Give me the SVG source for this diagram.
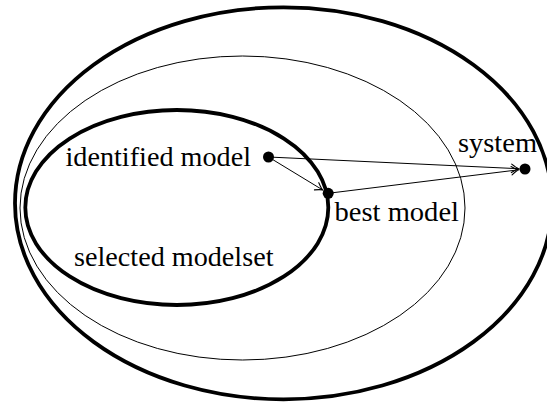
<svg xmlns="http://www.w3.org/2000/svg" width="547" height="402" viewBox="0 0 547 402">
  <style>
    .thick { fill: none; stroke: #000; stroke-width: 3.8; }
    .thin { fill: none; stroke: #000; stroke-width: 1; }
    .edge { fill: none; stroke: #000; stroke-width: 1; marker-end: url(#to); }
    .dot { fill: #000; }
    .lbl { font-family: "Liberation Serif", "Times New Roman", serif; font-size: 27.5px; fill: #000; }
  </style>
  <defs>
    <marker id="to" markerUnits="userSpaceOnUse" markerWidth="12" markerHeight="12" viewBox="-9 -6 12 12" refX="0" refY="0" orient="auto" overflow="visible">
      <path d="M-7,-4.2 Q-2.2,-0.8 0,0 Q-2.2,0.8 -7,4.2" fill="none" stroke="#000" stroke-width="1.1" stroke-linecap="round"/>
    </marker>
  </defs>

  <!-- nested sets -->
  <g id="system-set">
    <ellipse class="thick" cx="283.5" cy="203.3" rx="268.5" ry="196"/>
  </g>
  <g id="model-space">
    <ellipse class="thin" cx="242.5" cy="208" rx="222.5" ry="152"/>
  </g>
  <g id="selected-modelset">
    <ellipse class="thick" cx="176.8" cy="207.5" rx="151.5" ry="97.5"/>
    <text class="lbl" x="74" y="265.5" textLength="199.5" lengthAdjust="spacingAndGlyphs">selected modelset</text>
  </g>

  <!-- connectors -->
  <g id="connectors">
    <line class="edge" x1="268.5" y1="157" x2="322.6" y2="189.9"/>
    <line class="edge" x1="268.5" y1="157" x2="518.5" y2="168.7"/>
    <line class="edge" x1="328.2" y1="193.3" x2="518.5" y2="169.8"/>
  </g>

  <!-- points -->
  <g id="identified-model">
    <circle class="dot" cx="268.5" cy="157" r="5.5"/>
    <text class="lbl" x="65.5" y="165.5" textLength="185.5" lengthAdjust="spacingAndGlyphs">identified model</text>
  </g>
  <g id="best-model">
    <circle class="dot" cx="328.2" cy="193.3" r="5.5"/>
    <text class="lbl" x="334.5" y="221" textLength="124.5" lengthAdjust="spacingAndGlyphs">best model</text>
  </g>
  <g id="system">
    <circle class="dot" cx="525" cy="169" r="5.5"/>
    <text class="lbl" x="458" y="152" textLength="79" lengthAdjust="spacingAndGlyphs">system</text>
  </g>
</svg>
